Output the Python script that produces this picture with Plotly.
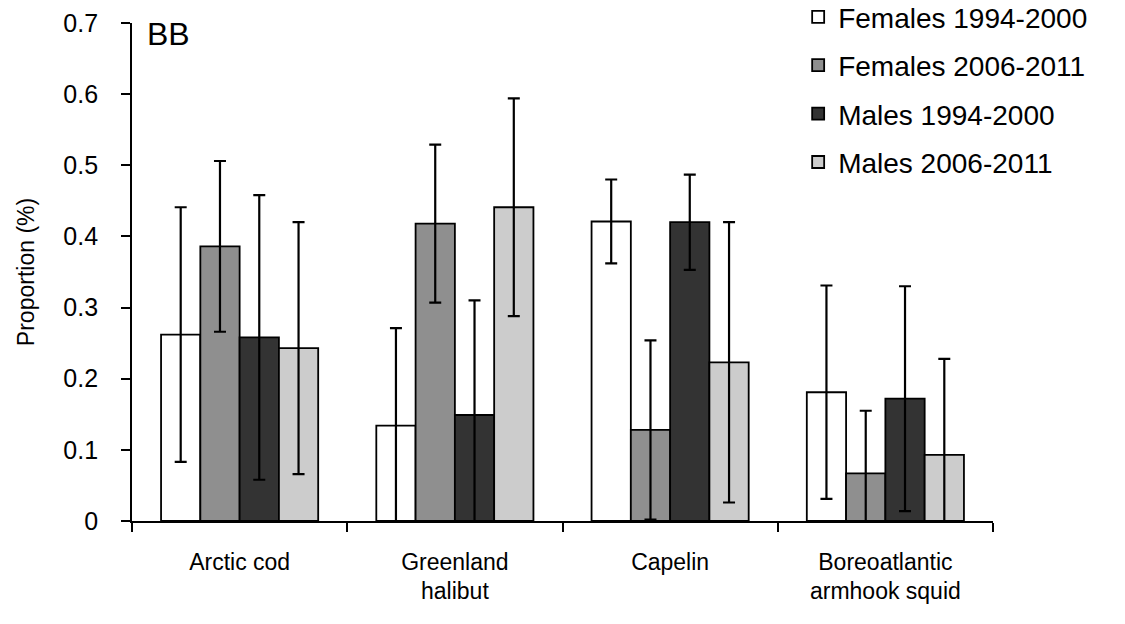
import plotly.graph_objects as go

categories = ["Arctic cod", "Greenland<br>halibut", "Capelin", "Boreoatlantic<br>armhook squid"]
series_names = ["Females 1994-2000", "Females 2006-2011", "Males 1994-2000", "Males 2006-2011"]
colors = ["#FFFFFF", "#8F8F8F", "#333333", "#CCCCCC"]

fem_94 = [0.262, 0.134, 0.421, 0.181]
fem_06 = [0.386, 0.418, 0.128, 0.067]
mal_94 = [0.258, 0.149, 0.420, 0.172]
mal_06 = [0.243, 0.441, 0.223, 0.093]

fem_94_err = [0.179, 0.137, 0.059, 0.150]
fem_06_err = [0.120, 0.111, 0.126, 0.088]
mal_94_err = [0.200, 0.161, 0.067, 0.158]
mal_06_err = [0.177, 0.153, 0.197, 0.135]

values = [fem_94, fem_06, mal_94, mal_06]
errors = [fem_94_err, fem_06_err, mal_94_err, mal_06_err]

yticks = [0, 0.1, 0.2, 0.3, 0.4, 0.5, 0.6, 0.7]
ytick_text = ["0", "0.1", "0.2", "0.3", "0.4", "0.5", "0.6", "0.7"]

FONT = "Liberation Sans, Arial, sans-serif"

fig = go.Figure()
for name, vals, errs, col in zip(series_names, values, errors, colors):
    fig.add_trace(go.Bar(
        x=categories, y=vals, name=name, legendgroup=name,
        marker=dict(color=col, line=dict(color="#000000", width=1.8)),
        error_y=dict(type="data", array=errs, visible=True,
                     color="#000000", thickness=2.2, width=6),
    ))

fig.update_layout(
    width=1125, height=624,
    paper_bgcolor="white", plot_bgcolor="white",
    barmode="group", bargap=0.27, bargroupgap=0,
    margin=dict(l=132, r=132, t=23, b=103, autoexpand=False),
    font=dict(family=FONT, color="#000000"),
    legend=dict(x=0.7737, y=1.062, xref="paper", yref="paper",
                xanchor="left", yanchor="top",
                font=dict(size=28, family=FONT),
                traceorder="grouped", tracegroupgap=9,
                bgcolor="rgba(0,0,0,0)", itemclick=False),
    annotations=[dict(text="BB", x=0.015, y=1.018, xref="paper", yref="paper",
                      xanchor="left", yanchor="top", showarrow=False,
                      font=dict(size=32, family=FONT))],
)

fig.update_xaxes(
    showline=True, linecolor="#000000", linewidth=1.8,
    ticks="outside", tickson="boundaries", ticklen=9, tickwidth=1.8, tickcolor="#000000",
    tickfont=dict(size=23, family=FONT),
    ticklabelstandoff=19, showgrid=False, zeroline=False,
)
fig.update_yaxes(
    range=[0, 0.7], tickvals=yticks, ticktext=ytick_text,
    showline=True, linecolor="#000000", linewidth=1.8,
    ticks="outside", ticklen=9, tickwidth=1.8, tickcolor="#000000",
    tickfont=dict(size=25), ticklabelstandoff=18,
    showgrid=False, zeroline=False,
    title=dict(text="Proportion (%)", font=dict(size=23), standoff=22),
)

fig.write_html("out.html", config={"displayModeBar": False},
               post_script="document.body.style.margin='0px';")
